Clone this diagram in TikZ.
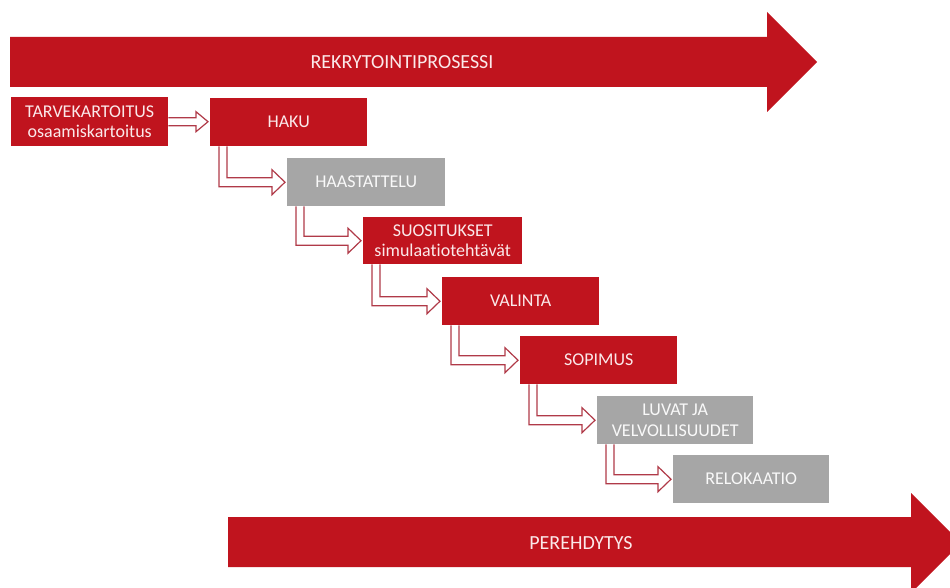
\documentclass[tikz,border=0pt]{standalone}
\usepackage{fontspec}
\setmainfont{Carlito}[Ligatures={NoCommon}]
\usetikzlibrary{calc}
\definecolor{bred}{HTML}{C0141E}
\definecolor{bgray}{HTML}{A6A6A6}
\definecolor{cline}{HTML}{B03A48}
\definecolor{tpink}{HTML}{FBE9EA}
\newcommand\elbowconn[2]{%
  \draw[conn] let \p1=(#1.south west), \p2=(#2.west) in
    (\x1+9pt,\y1) -- (\x1+9pt,\y2-4.5pt) -- (\x2-15pt,\y2-4.5pt) -- (\x2-15pt,\y2-12.5pt)
    -- (\x2-2pt,\y2) -- (\x2-15pt,\y2+12.5pt) -- (\x2-15pt,\y2+4.5pt) -- (\x1+17pt,\y2+4.5pt)
    -- (\x1+17pt,\y1);}
\begin{document}
\begin{tikzpicture}[x=1pt,y=-1pt,
  stagebox/.style={anchor=north west,minimum width=157pt,minimum height=48pt,inner sep=0pt,
    align=center,font=\fontsize{18}{20.5}\selectfont,text=tpink},
  redbox/.style={stagebox,fill=bred},
  graybox/.style={stagebox,fill=bgray,text=white!95!gray},
  conn/.style={draw=cline,line width=1.2pt,fill=white,line join=miter},
  bigarrow/.style={fill=bred},
  bigtext/.style={font=\fontsize{20}{24}\selectfont,text=tpink}]
\useasboundingbox (0,0) rectangle (950,588);
\clip (0,0) rectangle (950,588);
% big arrows
\fill[bigarrow] (10,37) -- (767,37) -- (767,12) -- (817,62) -- (767,112) -- (767,87) -- (10,87) -- cycle;
\node[bigtext] (rekry) at (402,62) {REKRYTOINTIPROSESSI};
\fill[bigarrow] (228,517) -- (911,517) -- (911,493) -- (961,543) -- (911,593) -- (911,567) -- (228,567) -- cycle;
\node[bigtext] (pere) at (581,543) {PEREHDYTYS};
% stages
\node[redbox,minimum height=49pt] (tarve) at (11,97) {TARVEKARTOITUS\\osaamiskartoitus};
\node[redbox] (haku) at (210,98) {HAKU};
\node[graybox,minimum width=158pt] (haas) at (287,158) {HAASTATTELU};
\node[redbox,minimum width=159pt,minimum height=47pt] (suos) at (363,217) {SUOSITUKSET\\simulaatiotehtävät};
\node[redbox] (vali) at (442,277) {VALINTA};
\node[redbox] (sopi) at (520,336) {SOPIMUS};
\node[graybox,minimum width=156pt] (luva) at (597,396) {LUVAT JA\\VELVOLLISUUDET};
\node[graybox,minimum width=156pt] (relo) at (673,455) {RELOKAATIO};
% connectors
\draw[conn] let \p1=(tarve.east), \p2=(haku.west) in
  (\x1,\y1-4pt) -- (\x2-14pt,\y1-4pt) -- (\x2-14pt,\y1-10pt) -- (\x2-2pt,\y1)
  -- (\x2-14pt,\y1+10pt) -- (\x2-14pt,\y1+4pt) -- (\x1,\y1+4pt);
\elbowconn{haku}{haas}
\elbowconn{haas}{suos}
\elbowconn{suos}{vali}
\elbowconn{vali}{sopi}
\elbowconn{sopi}{luva}
\elbowconn{luva}{relo}
\end{tikzpicture}
\end{document}
